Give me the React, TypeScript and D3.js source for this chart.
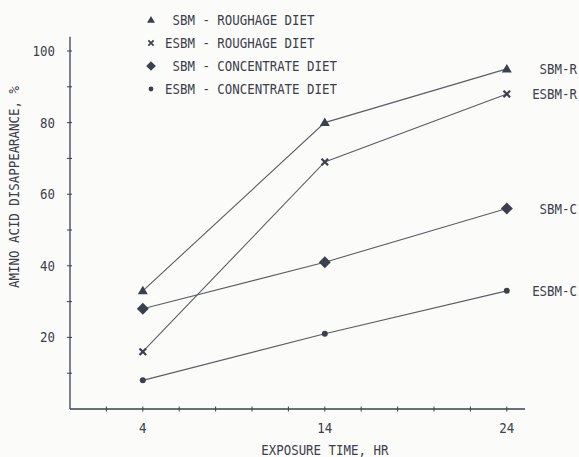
import { useEffect, useRef } from 'react';
import * as d3 from 'd3';

// exposure time (hr)
const hours = [4, 14, 24];

// amino acid disappearance, %
const sbmRoughage = [33, 80, 95];
const esbmRoughage = [16, 69, 88];
const sbmConcentrate = [28, 41, 56];
const esbmConcentrate = [8, 21, 33];

const seriesNames = ['SBM-R', 'ESBM-R', 'SBM-C', 'ESBM-C'];
const legendLabels = [
  ' SBM - ROUGHAGE DIET',
  'ESBM - ROUGHAGE DIET',
  ' SBM - CONCENTRATE DIET',
  'ESBM - CONCENTRATE DIET',
];
const yTickLabels = [20, 40, 60, 80, 100];
const xTickLabels = [4, 14, 24];

const ink = '#3b404c';
const lineCol = '#5a5e66';
const font = '"DejaVu Sans Mono", monospace';

const App = () => {
  const svgRef = useRef<SVGSVGElement>(null);

  useEffect(() => {
    const W = 579;
    const H = 457;
    const svg = d3.select(svgRef.current);
    svg.selectAll('*').remove();
    svg.attr('width', W).attr('height', H);

    svg.append('rect').attr('width', W).attr('height', H).attr('fill', '#fbfbf9');

    const x = d3.scaleLinear().domain([0, 25]).range([70, 525]);
    const y = d3.scaleLinear().domain([0, 100]).range([409, 51]);

    // condensed typewriter-like text
    const label = (tx: number, ty: number, s: string | number, anchor = 'start', rot = 0) =>
      svg.append('text')
        .attr('transform', `translate(${tx},${ty}) rotate(${rot}) scale(0.92,1)`)
        .attr('text-anchor', anchor)
        .attr('xml:space', 'preserve')
        .style('white-space', 'pre')
        .style('font-family', font).style('font-size', '13.5px')
        .style('fill', ink)
        .text(s);

    // axes
    svg.append('line')
      .attr('x1', x(0)).attr('x2', x(0))
      .attr('y1', y(0)).attr('y2', y(104))
      .attr('stroke', ink).attr('stroke-width', 1.3);
    svg.append('line')
      .attr('x1', x(0)).attr('x2', x(25))
      .attr('y1', y(0)).attr('y2', y(0))
      .attr('stroke', ink).attr('stroke-width', 1.3);

    // y ticks every 10
    svg.selectAll('.ytick')
      .data(d3.range(10, 101, 10))
      .enter().append('line')
      .attr('x1', x(0) - 3).attr('x2', x(0) + 2)
      .attr('y1', d => y(d)).attr('y2', d => y(d))
      .attr('stroke', ink).attr('stroke-width', 1);

    // x ticks every 2 hr
    svg.selectAll('.xtick')
      .data(d3.range(2, 25, 2))
      .enter().append('line')
      .attr('x1', d => x(d)).attr('x2', d => x(d))
      .attr('y1', y(0) - 2.5).attr('y2', y(0) + 2.5)
      .attr('stroke', ink).attr('stroke-width', 1);

    yTickLabels.forEach(d => label(55, y(d) + 5, d, 'end'));
    xTickLabels.forEach(d => label(x(d), 433, d, 'middle'));

    label(x(14), 455, 'EXPOSURE TIME, HR', 'middle');
    label(19, 187, 'AMINO ACID DISAPPEARANCE, %', 'middle', -90);

    // markers
    const drawMarker = (kind: number, cx: number, cy: number, s: number) => {
      if (kind === 0) {
        svg.append('path')
          .attr('d', `M${cx},${cy - 5 * s}L${cx + 5 * s},${cy + 3.5 * s}L${cx - 5 * s},${cy + 3.5 * s}Z`)
          .attr('fill', ink);
      } else if (kind === 1) {
        const r = 3.3 * s;
        svg.append('path')
          .attr('d', `M${cx - r},${cy - r}L${cx + r},${cy + r}M${cx + r},${cy - r}L${cx - r},${cy + r}`)
          .attr('stroke', ink).attr('stroke-width', 2.2 * s);
      } else if (kind === 2) {
        const r = 6 * s;
        svg.append('path')
          .attr('d', `M${cx},${cy - r}L${cx + r},${cy}L${cx},${cy + r}L${cx - r},${cy}Z`)
          .attr('fill', ink);
      } else {
        svg.append('circle').attr('cx', cx).attr('cy', cy).attr('r', 3 * s).attr('fill', ink);
      }
    };

    const allSeries = [sbmRoughage, esbmRoughage, sbmConcentrate, esbmConcentrate];
    const line = d3.line<number>()
      .x((_, i) => x(hours[i]))
      .y(d => y(d));

    allSeries.forEach((vals, k) => {
      svg.append('path')
        .attr('d', line(vals))
        .attr('fill', 'none')
        .attr('stroke', lineCol)
        .attr('stroke-width', 1.1);
      vals.forEach((v, i) => drawMarker(k, x(hours[i]), y(v), 1));

      // end label
      label(577, y(vals[vals.length - 1]) + 5, seriesNames[k], 'end');
    });

    // legend
    const legendY = [20, 43, 66, 89];
    legendLabels.forEach((lab, k) => {
      drawMarker(k, 151, legendY[k], 0.8);
      label(165, legendY[k] + 5, lab);
    });
  }, []);

  return (
    <svg ref={svgRef} style={{ position: 'absolute', left: 0, top: 0 }}></svg>
  );
};

export default App;
